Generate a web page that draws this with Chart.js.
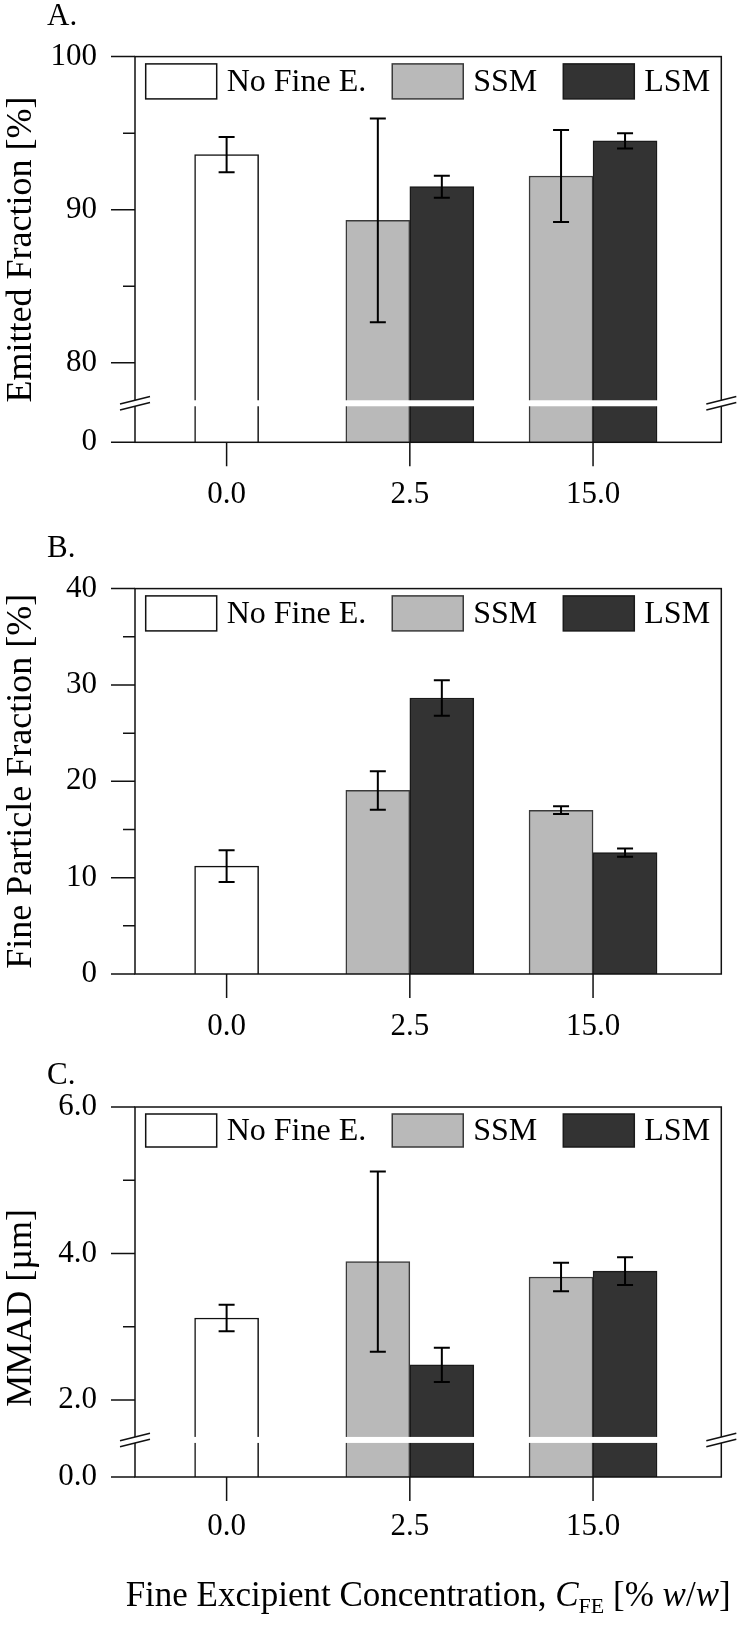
<!DOCTYPE html>
<html>
<head>
<meta charset="utf-8">
<script src="https://cdn.jsdelivr.net/npm/chart.js@4.4.1/dist/chart.umd.min.js"></script>
<style>
  body { margin: 0; background: #fff; }
  #wrap { position: relative; width: 738px; height: 1637px; }
  .panel { position: absolute; left: 0; width: 738px; }
  canvas { display: block; }
</style>
</head>
<body>
<div id="wrap">
  <div class="panel" style="top:0"><canvas id="chartA" width="738" height="532"></canvas></div>
  <div class="panel" style="top:532px"><canvas id="chartB" width="738" height="508"></canvas></div>
  <div class="panel" style="top:1040px"><canvas id="chartC" width="738" height="597"></canvas></div>
</div>
<script>
// Shared x categories (fine excipient concentration)
const xPositions = [0, 1, 2];
const xTickLabels = ['0.0', '2.5', '15.0'];
const seriesNames = ['No Fine E.', 'SSM', 'LSM'];

// A. Emitted fraction [%]
const emittedNoFine = [93.6, null, null];
const emittedNoFineErr = [1.15, null, null];
const emittedSSM = [null, 89.3, 92.2];
const emittedSSMErr = [null, 6.65, 3.0];
const emittedLSM = [null, 91.5, 94.5];
const emittedLSMErr = [null, 0.72, 0.5];
const emittedTicks = [80, 90, 100];
const emittedTickLabels = ['80', '90', '100'];
const emittedMinor = [85, 95];

// B. Fine particle fraction [%]
const fpfNoFine = [11.2, null, null];
const fpfNoFineErr = [1.65, null, null];
const fpfSSM = [null, 19.05, 17.0];
const fpfSSMErr = [null, 2.0, 0.4];
const fpfLSM = [null, 28.65, 12.6];
const fpfLSMErr = [null, 1.85, 0.43];
const fpfTicks = [0, 10, 20, 30, 40];
const fpfTickLabels = ['0', '10', '20', '30', '40'];
const fpfMinor = [5, 15, 25, 35];

// C. MMAD [µm]
const mmadNoFine = [3.12, null, null];
const mmadNoFineErr = [0.18, null, null];
const mmadSSM = [null, 3.89, 3.68];
const mmadSSMErr = [null, 1.23, 0.195];
const mmadLSM = [null, 2.48, 3.76];
const mmadLSMErr = [null, 0.235, 0.19];
const mmadTicks = [2, 4, 6];
const mmadTickLabels = ['2.0', '4.0', '6.0'];
const mmadMinor = [3, 5];

const FONT = '"Liberation Serif", "Times New Roman", serif';
const fillColors = ['#ffffff', '#b9b9b9', '#333333'];
const edgeColors = ['#111111', '#3a3a3a', '#1a1a1a'];

// draws frame, ticks, axis break, error bars, legend and titles
const decor = {
  id: 'decor',
  afterDatasetsDraw(chart, args, o) {
    const ctx = chart.ctx;
    const y = chart.scales.y;
    ctx.save();
    ctx.strokeStyle = '#000';
    ctx.lineWidth = 2;
    chart.data.datasets.forEach((ds, di) => {
      const meta = chart.getDatasetMeta(di);
      meta.data.forEach((bar, i) => {
        const v = ds.data[i], e = ds.errors[i];
        if (v == null || e == null) return;
        const yT = y.getPixelForValue(v + e);
        const yB = y.getPixelForValue(v - e);
        ctx.beginPath();
        ctx.moveTo(bar.x, yT); ctx.lineTo(bar.x, yB);
        ctx.moveTo(bar.x - 8, yT); ctx.lineTo(bar.x + 8, yT);
        ctx.moveTo(bar.x - 8, yB); ctx.lineTo(bar.x + 8, yB);
        ctx.stroke();
      });
    });
    ctx.restore();
  },
  afterDraw(chart, args, o) {
    const ctx = chart.ctx;
    const {left, right, top, bottom} = chart.chartArea;
    const y = chart.scales.y, x = chart.scales.x;
    ctx.save();
    ctx.strokeStyle = '#111';
    ctx.lineWidth = 1.5;
    ctx.strokeRect(left, top, right - left, bottom - top);

    // tick marks
    ctx.beginPath();
    [y.min, ...o.major].forEach(v => {
      const p = y.getPixelForValue(v);
      ctx.moveTo(left - 24, p); ctx.lineTo(left, p);
    });
    o.minor.forEach(v => {
      const p = y.getPixelForValue(v);
      ctx.moveTo(left - 12, p); ctx.lineTo(left, p);
    });
    xPositions.forEach(v => {
      const p = x.getPixelForValue(v);
      ctx.moveTo(p, bottom); ctx.lineTo(p, bottom + 24);
    });
    ctx.stroke();

    // axis break
    if (o.breakAt != null) {
      const yc = y.getPixelForValue(o.breakAt);
      ctx.fillStyle = '#fff';
      ctx.fillRect(left + 1, yc - 3, right - left - 2, 6);
      [left, right].forEach(ax => {
        ctx.beginPath();
        ctx.moveTo(ax - 15, yc - 3 + 3.75);
        ctx.lineTo(ax + 15, yc - 3 - 3.75);
        ctx.lineTo(ax + 15, yc + 3 - 3.75);
        ctx.lineTo(ax - 15, yc + 3 + 3.75);
        ctx.closePath();
        ctx.fill();
        ctx.beginPath();
        ctx.moveTo(ax - 15, yc - 3 + 3.75); ctx.lineTo(ax + 15, yc - 3 - 3.75);
        ctx.moveTo(ax - 15, yc + 3 + 3.75); ctx.lineTo(ax + 15, yc + 3 - 3.75);
        ctx.stroke();
      });
    }

    // legend inside the plot
    ctx.font = '32px ' + FONT;
    ctx.textBaseline = 'middle';
    ctx.textAlign = 'left';
    let lx = left + 10.7;
    const ly = top + o.legendTop;
    chart.data.datasets.forEach(ds => {
      ctx.fillStyle = ds.backgroundColor;
      ctx.fillRect(lx, ly, 71, o.legendBox);
      ctx.strokeStyle = ds.borderColor;
      ctx.strokeRect(lx, ly, 71, o.legendBox);
      ctx.fillStyle = '#000';
      ctx.fillText(ds.label, lx + 81, ly + o.legendBox / 2 + 1);
      lx += 81 + ctx.measureText(ds.label).width + 26;
    });

    // panel letter
    ctx.textBaseline = 'alphabetic';
    ctx.font = '31px ' + FONT;
    ctx.fillText(o.letter, 47, o.letterY);

    // y title
    ctx.save();
    ctx.font = '36px ' + FONT;
    ctx.textAlign = 'center';
    ctx.translate(31, (top + bottom) / 2 + o.titleShift);
    ctx.rotate(-Math.PI / 2);
    ctx.fillText(o.yTitle, 0, 0);
    ctx.restore();

    // x title (bottom panel only)
    if (o.xTitle) {
      const parts = o.xTitle;
      let w = 0;
      parts.forEach(p => { ctx.font = p.f + FONT; w += ctx.measureText(p.t).width; });
      let tx = (left + right) / 2 - w / 2;
      parts.forEach(p => {
        ctx.font = p.f + FONT;
        ctx.fillText(p.t, tx, o.xTitleY + (p.dy || 0));
        tx += ctx.measureText(p.t).width;
      });
    }
    ctx.restore();
  }
};

function makePanel(id, cfg) {
  const canvas = document.getElementById(id);
  const H = canvas.height;
  const datasets = cfg.series.map((s, i) => ({
    label: seriesNames[i],
    data: s[0],
    errors: s[1],
    backgroundColor: fillColors[i],
    borderColor: edgeColors[i],
    borderWidth: 1.5,
    barThickness: 64,
    skipNull: true
  }));
  return new Chart(canvas, {
    type: 'bar',
    data: { labels: xPositions, datasets: datasets },
    options: {
      responsive: false,
      animation: false,
      devicePixelRatio: 1,
      layout: { padding: { left: 0, top: cfg.top, right: 16.7, bottom: 0 } },
      plugins: {
        legend: { display: false },
        tooltip: { enabled: false },
        decor: cfg.decor
      },
      scales: {
        x: {
          type: 'linear',
          offset: false,
          min: -0.5,
          max: 2.7,
          grid: { display: false, drawTicks: false },
          border: { display: false },
          afterBuildTicks: s => { s.ticks = xPositions.map(v => ({ value: v })); },
          afterFit: s => { s.height = H - cfg.bottom; },
          ticks: {
            autoSkip: false,
            maxRotation: 0,
            padding: cfg.xPad,
            color: '#000',
            font: { family: FONT, size: 31 },
            callback: (v, i) => xTickLabels[i]
          }
        },
        y: {
          min: cfg.yMin,
          max: cfg.yMax,
          grid: { display: false, drawTicks: false },
          border: { display: false },
          afterBuildTicks: s => {
            const vals = [...new Set([cfg.yMin, ...cfg.decor.minor, ...cfg.decor.major])].sort((a, b) => a - b);
            s.ticks = vals.map(v => ({ value: v }));
          },
          afterFit: s => { s.width = 135; },
          ticks: {
            padding: 38,
            color: '#000',
            font: { family: FONT, size: 31 },
            callback: v => {
              const k = cfg.decor.major.indexOf(v);
              if (k >= 0) return cfg.tickLabels[k];
              if (v === cfg.yMin) return cfg.baseLabel;
              return '';
            }
          }
        }
      }
    },
    plugins: [decor]
  });
}

makePanel('chartA', {
  series: [[emittedNoFine, emittedNoFineErr], [emittedSSM, emittedSSMErr], [emittedLSM, emittedLSMErr]],
  yMin: 74.8, yMax: 100, baseLabel: '0', tickLabels: emittedTickLabels,
  top: 51.7, bottom: 442.3, xPad: 34,
  decor: { major: emittedTicks, minor: emittedMinor, breakAt: 77.35, legendTop: 7.3, legendBox: 35,
           letter: 'A.', letterY: 25, yTitle: 'Emitted Fraction [%]', titleShift: 0 }
});

makePanel('chartB', {
  series: [[fpfNoFine, fpfNoFineErr], [fpfSSM, fpfSSMErr], [fpfLSM, fpfLSMErr]],
  yMin: 0, yMax: 40, baseLabel: '0', tickLabels: fpfTickLabels,
  top: 51.7, bottom: 442, xPad: 34,
  decor: { major: fpfTicks, minor: fpfMinor, breakAt: null, legendTop: 7.3, legendBox: 35,
           letter: 'B.', letterY: 25, yTitle: 'Fine Particle Fraction [%]', titleShift: 0 }
});

makePanel('chartC', {
  series: [[mmadNoFine, mmadNoFineErr], [mmadSSM, mmadSSMErr], [mmadLSM, mmadLSMErr]],
  yMin: 0.95, yMax: 6, baseLabel: '0.0', tickLabels: mmadTickLabels,
  top: 67, bottom: 437, xPad: 31,
  decor: { major: mmadTicks, minor: mmadMinor, breakAt: 1.456, legendTop: 7, legendBox: 33,
           letter: 'C.', letterY: 44, yTitle: 'MMAD [µm]', titleShift: 16,
           xTitleY: 566,
           xTitle: [
             { t: 'Fine Excipient Concentration, ', f: '35px ' },
             { t: 'C', f: 'italic 35px ' },
             { t: 'FE', f: '22px ', dy: 7 },
             { t: ' [% ', f: '35px ' },
             { t: 'w', f: 'italic 35px ' },
             { t: '/', f: '35px ' },
             { t: 'w', f: 'italic 35px ' },
             { t: ']', f: '35px ' }
           ] }
});
</script>
</body>
</html>
